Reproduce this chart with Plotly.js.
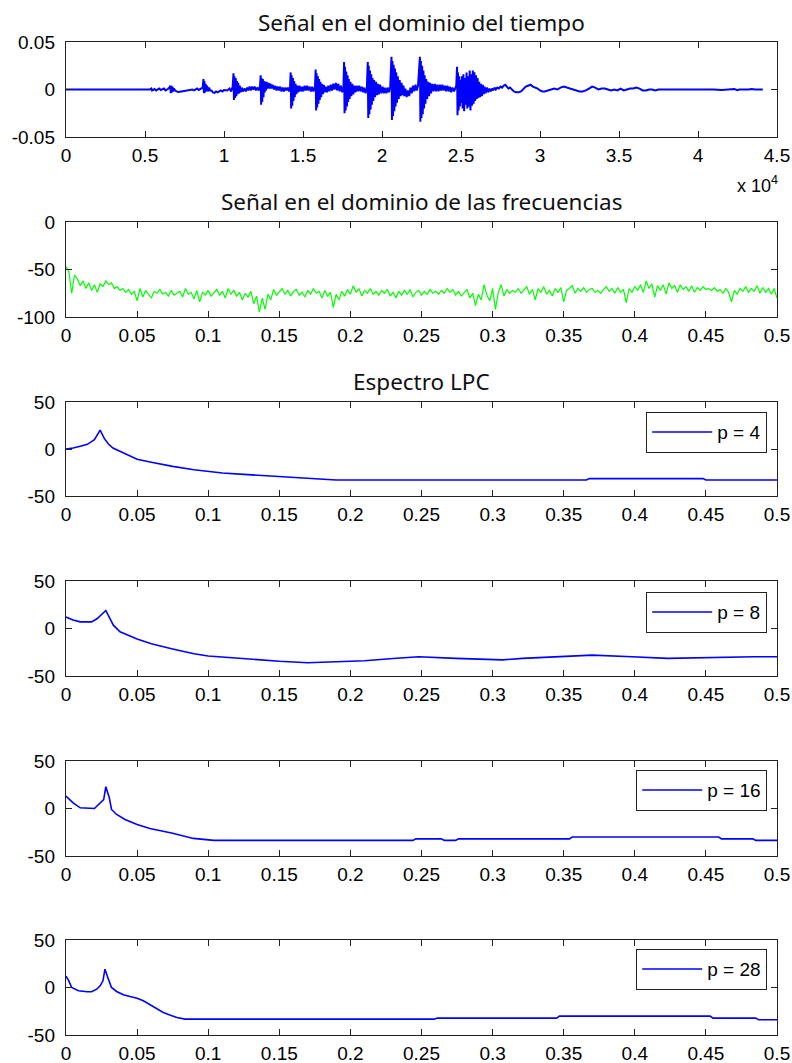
<!DOCTYPE html>
<html>
<head>
<meta charset="utf-8">
<script src="https://cdn.plot.ly/plotly-3.0.1.min.js"></script>
<style>html,body{margin:0;padding:0;background:#fff;}#chart{width:792px;height:1063px;}</style>
</head>
<body>
<div id="chart"></div>
<script>
// ---------------- DATA ----------------
const titles = ["Señal en el dominio del tiempo", "Señal en el dominio de las frecuencias", "Espectro LPC"];
const legendNames = ["p = 4", "p = 8", "p = 16", "p = 28"];

// time-domain signal (sample index, amplitude)
const timeX = [0,5300,5400,5450,5600,5700,5900,6000,6200,6300,6450,
6550,6600,6630,6660,6700,6740,6780,6830,6900,
7000,7100,7300,7500,7600,7700,7800,8000,8100,8300,8400,8550,
8650,8700,8730,8760,8800,8840,8880,8930,8980,9050,9120,
9200,9300,9400,9500,9600,9700,9800,9900,10000,10200,10350,10450,
10550,10600,10630,10660,10700,10740,10780,10820,10860,10900,10950,11000,11060,11120,11200,11300,11380,11460,11540,11620,11700,11780,11860,11940,12020,12100,12200,
12280,12320,12350,12380,12420,12460,12500,12540,12580,12620,12660,12700,12760,12820,12880,12940,13000,13080,13160,13240,13320,13400,13480,13560,13640,13720,13800,13880,13960,14040,14120,
14180,14220,14250,14280,14320,14360,14400,14440,14480,14530,14580,14640,14700,14780,14860,14940,15020,15100,15180,15260,15340,15420,15500,15580,15660,
15760,15800,15830,15860,15900,15940,15980,16020,16060,16100,16150,16200,16260,16320,16380,16440,16520,16600,16680,16760,16840,16920,17000,17080,17160,17240,17320,17400,17480,17560,
17600,17630,17660,17700,17740,17780,17820,17860,17900,17950,18000,18060,18120,18180,18250,18320,18400,18480,18560,18640,18720,18800,18880,18960,19040,
19100,19130,19160,19200,19240,19280,19320,19360,19400,19450,19500,19560,19620,19680,19740,19800,19880,19960,20040,20120,20200,20280,20360,20440,20520,
20600,20630,20660,20700,20740,20780,20820,20860,20900,20950,21000,21060,21120,21180,21240,21300,21360,21420,21480,21560,21640,21720,21800,21880,21960,22040,22120,22200,22280,
22400,22430,22460,22500,22540,22580,22620,22660,22700,22750,22800,22860,22920,22980,23040,23100,23180,23260,23340,23420,23500,23580,23660,23740,23820,23900,23980,24060,24140,24220,24300,24380,24460,24560,
24700,24750,24780,24810,24850,24890,24930,24970,25010,
25060,25100,25150,25200,25250,25300,25350,25400,25450,25500,25550,25600,25650,25700,25750,25800,25850,25900,25950,26000,26050,26100,26150,26200,26260,26320,26380,26440,26500,26560,26640,26720,26800,26880,26960,27040,27120,27200,27300,27400,27500,27600,27700,27800,27900,28000,28100,28200,28350,28500,28650,28800,28950,29100,29250,29400,29550,29700,29850,30000,30150,30300,30500,30700,30900,31100,31300,31500,31700,31900,32100,32300,32500,32700,32900,33100,33300,33500,33700,33900,34100,34300,34500,34700,34900,35100,35300,35500,35700,35900,36100,36300,36500,36700,36900,37100,37300,37500,37700,37900,38100,38300,38500,38700,39500,39800,40000,41000,41500,42000,42300,42500,42600,43200,43400,43600,44000,44100];
const timeY = [0,0,0.001,-0.001,0.0005,-0.001,0.001,-0.0005,0.001,-0.001,0.0005,
0.002,0.004,-0.004,0.004,-0.003,0.003,-0.002,0.001,-0.001,
-0.002,-0.0025,-0.002,-0.0015,-0.001,-0.0005,-0.001,0,-0.001,0.001,-0.0005,0.001,
0.002,0.011,-0.004,0.009,-0.003,0.006,-0.002,0.004,-0.002,0.002,-0.001,
-0.001,-0.003,-0.0035,-0.002,-0.003,-0.002,-0.001,-0.002,-0.0005,-0.001,0.001,-0.002,
0.003,0.017,-0.011,0.014,-0.009,0.012,-0.007,0.009,-0.005,0.007,-0.004,0.004,-0.003,0.002,-0.002,0.001,-0.002,0.002,-0.001,0.003,-0.001,0.003,0,0.003,-0.001,0.002,-0.001,
0.004,0.015,-0.016,0.012,-0.013,0.011,-0.008,0.009,-0.003,0.008,-0.001,0.008,0.001,0.007,0.001,0.006,0.001,0.005,0,0.004,-0.001,0.003,-0.001,0.003,-0.002,0.002,-0.002,0.002,-0.001,0.002,-0.002,
0.003,0.018,-0.02,0.015,-0.017,0.012,-0.012,0.009,-0.008,0.006,-0.005,0.004,-0.003,0.004,-0.002,0.003,-0.002,0.004,-0.001,0.004,-0.001,0.003,-0.002,0.003,-0.002,
0.003,0.021,-0.022,0.017,-0.019,0.014,-0.015,0.011,-0.011,0.008,-0.008,0.006,-0.005,0.005,-0.003,0.003,-0.003,0.004,-0.002,0.005,-0.001,0.006,0,0.007,-0.001,0.006,-0.002,0.004,-0.003,0.003,
0.029,-0.025,0.024,-0.022,0.019,-0.018,0.015,-0.013,0.011,-0.01,0.008,-0.007,0.006,-0.005,0.004,-0.003,0.004,-0.002,0.004,-0.002,0.003,-0.003,0.002,-0.004,0.001,
0.029,-0.03,0.025,-0.026,0.02,-0.021,0.016,-0.016,0.012,-0.012,0.01,-0.008,0.008,-0.006,0.006,-0.005,0.005,-0.004,0.003,-0.004,0.002,-0.004,0.002,-0.003,0.003,
0.0345,-0.032,0.03,-0.028,0.026,-0.023,0.022,-0.018,0.018,-0.014,0.014,-0.01,0.01,-0.007,0.007,-0.006,0.004,-0.007,0.001,-0.008,-0.001,-0.007,0.002,-0.004,0.004,-0.002,0.005,-0.001,0.004,
0.0345,-0.034,0.03,-0.03,0.025,-0.026,0.02,-0.02,0.015,-0.015,0.011,-0.01,0.008,-0.007,0.007,-0.004,0.006,-0.002,0.006,-0.002,0.005,-0.002,0.005,-0.001,0.005,-0.001,0.004,-0.002,0.004,-0.002,0.003,-0.003,0.002,-0.002,
0.004,0.024,-0.027,0.018,-0.022,0.014,-0.018,0.01,-0.014,
0.014,-0.02,0.016,-0.023,0.012,-0.016,0.018,-0.02,0.014,-0.018,0.02,-0.022,0.016,-0.017,0.02,-0.015,0.018,-0.012,0.015,-0.01,0.012,-0.009,0.008,-0.008,0.006,-0.007,0.005,-0.005,0.003,-0.004,0.002,-0.003,0.001,-0.002,0.001,-0.001,0.002,0,0.002,0.001,0.003,0.002,0.004,0.005,0.003,0.001,0.002,0,-0.002,-0.003,-0.003,-0.002,0.001,0.003,0.004,0.005,0.003,0.002,0.001,-0.001,-0.002,-0.002,-0.001,0,0.001,0,0.002,0.003,0.002,0.001,0,-0.001,-0.002,-0.002,-0.001,0.001,0.003,0.002,0,0.001,0.001,0,-0.001,0,-0.001,0.001,-0.001,0,0.001,0.001,0.002,0.001,-0.001,-0.001,0,0,-0.001,0,0,0,0,0,0.0005,0,0,0.0005,0,0,-0.0005,0,0.0005,-0.0007,0,0,0.0005,0,-0.0005,0];
const timeTickVals = [0,5000,10000,15000,20000,25000,30000,35000,40000,45000];
const timeTickText = ["0","0.5","1","1.5","2","2.5","3","3.5","4","4.5"];

// magnitude spectrum (dB), one value every 0.002 of normalised frequency
const specStep = 0.002;
const specDb = [-47,-52,-75,-56,-60,-67,-62,-70,-64,-72,
-66,-74,-65,-68,-62,-66,-64,-70,-68,-72,
-70,-74,-71,-76,-73,-83,-70,-79,-72,-76,
-80,-73,-75,-71,-76,-74,-78,-72,-77,-75,
-73,-79,-70,-76,-74,-81,-72,-84,-74,-77,
-72,-78,-74,-71,-77,-73,-80,-70,-76,-72,
-78,-74,-82,-75,-79,-73,-86,-78,-95,-80,
-92,-76,-82,-71,-77,-74,-70,-76,-72,-78,
-73,-71,-77,-74,-79,-72,-76,-70,-75,-73,
-80,-72,-78,-74,-90,-76,-82,-73,-78,-71,
-76,-67,-74,-70,-78,-72,-75,-70,-76,-73,
-77,-72,-75,-71,-78,-74,-80,-73,-77,-72,
-76,-71,-79,-74,-72,-77,-73,-76,-71,-75,
-73,-76,-72,-75,-70,-74,-71,-77,-73,-78,
-74,-71,-80,-75,-88,-76,-82,-66,-77,-83,
-70,-92,-74,-66,-78,-71,-75,-72,-74,-70,
-75,-72,-68,-76,-71,-82,-70,-74,-68,-76,
-72,-78,-70,-74,-69,-84,-72,-70,-67,-75,
-70,-73,-69,-74,-71,-70,-74,-72,-75,-71,
-68,-73,-70,-75,-69,-74,-71,-85,-70,-74,
-68,-72,-66,-74,-62,-70,-65,-79,-67,-72,
-66,-76,-64,-70,-67,-74,-66,-71,-68,-73,
-67,-74,-69,-72,-68,-71,-70,-72,-69,-73,
-71,-75,-70,-74,-84,-72,-76,-70,-73,-68,
-74,-70,-73,-67,-75,-69,-74,-70,-76,-70,
-80];

// LPC spectra (normalised frequency, dB)
const lpc4F = [0,0.005,0.01,0.015,0.02,0.024,0.027,0.03,0.033,0.04,0.05,0.06,0.075,0.09,0.1,0.11,0.125,0.14,0.15,0.16,0.175,0.19,0.25,0.3,0.366,0.368,0.448,0.45,0.5];
const lpc4Db = [0,1,3,5,10,20,11,5,1,-4,-11,-14,-18.5,-22,-24,-25.5,-27,-28.5,-29.5,-30.5,-31.5,-33,-33,-33,-33,-31.5,-31.5,-33,-33];
const lpc8F = [0,0.005,0.01,0.018,0.022,0.028,0.0333,0.038,0.05,0.06,0.075,0.09,0.1,0.125,0.15,0.17,0.19,0.21,0.23,0.248,0.274,0.307,0.321,0.35,0.37,0.398,0.423,0.484,0.5];
const lpc8Db = [12,9,7,7,10.5,19,3.5,-3.5,-11,-16,-21.5,-26.5,-29,-32,-34.5,-36,-35,-34,-31.5,-29.7,-31.4,-33,-31.4,-29.7,-28,-29.7,-31.4,-29.7,-29.7];
const lpc16F = [0,0.005,0.01,0.015,0.02,0.0216,0.0265,0.028,0.0305,0.032,0.0356,0.0415,0.05,0.059,0.075,0.0895,0.104,0.244,0.246,0.264,0.266,0.274,0.276,0.354,0.356,0.459,0.461,0.483,0.485,0.5];
const lpc16Db = [13,6,0.7,0,0,2.4,9.4,23,11,-1,-6.3,-11.5,-16.8,-21,-26,-31.5,-33.6,-33.6,-32,-32,-33.6,-33.6,-32,-32,-30,-30,-32,-32,-33.6,-33.6];
const lpc28F = [0,0.002,0.004,0.0087,0.015,0.018,0.0216,0.024,0.026,0.0274,0.0298,0.032,0.0356,0.0403,0.045,0.05,0.0544,0.059,0.064,0.0684,0.073,0.078,0.0837,0.259,0.261,0.345,0.347,0.453,0.455,0.485,0.487,0.5];
const lpc28Db = [12,7,0,-3.5,-4.5,-4.5,-1.8,1.8,7,19.3,8.8,0,-4.2,-7.7,-9.5,-11.2,-14,-18.2,-22.8,-26.3,-29,-31.6,-33.3,-33.3,-32.2,-32.2,-30.1,-30.1,-32.2,-32.2,-34,-34];

const freqTickVals = [0,0.05,0.1,0.15,0.2,0.25,0.3,0.35,0.4,0.45,0.5];
const freqTickText = ["0","0.05","0.1","0.15","0.2","0.25","0.3","0.35","0.4","0.45","0.5"];

// ---------------- FIGURE ----------------
const specF = specDb.map((_, i) => +(i * specStep).toFixed(4));
const W = 792, H = 1063;
const xDom = [66 / W, 777 / W];
const panels = [[42, 137], [222, 317], [402, 496], [581, 676], [761, 856], [940, 1035]];
const yDom = panels.map(p => [1 - p[1] / H, 1 - p[0] / H]);
const tickFont = {family: "Liberation Sans, Arial, sans-serif", size: 19, color: "#000"};
const titleFont = {family: "Noto Sans, Open Sans, sans-serif", size: 22.5, color: "#111"};

const blue = "#0000ff";
const traces = [
  {x: timeX, y: timeY, type: "scatter", mode: "lines", line: {color: blue, width: 2}, xaxis: "x", yaxis: "y", showlegend: false, hoverinfo: "skip"},
  {x: specF, y: specDb, type: "scatter", mode: "lines", line: {color: "#00ff00", width: 1.2}, xaxis: "x2", yaxis: "y2", showlegend: false, hoverinfo: "skip"},
  {x: lpc4F, y: lpc4Db, name: legendNames[0], type: "scatter", mode: "lines", line: {color: blue, width: 1.6}, xaxis: "x3", yaxis: "y3", legend: "legend"},
  {x: lpc8F, y: lpc8Db, name: legendNames[1], type: "scatter", mode: "lines", line: {color: blue, width: 1.6}, xaxis: "x4", yaxis: "y4", legend: "legend2"},
  {x: lpc16F, y: lpc16Db, name: legendNames[2], type: "scatter", mode: "lines", line: {color: blue, width: 1.6}, xaxis: "x5", yaxis: "y5", legend: "legend3"},
  {x: lpc28F, y: lpc28Db, name: legendNames[3], type: "scatter", mode: "lines", line: {color: blue, width: 1.6}, xaxis: "x6", yaxis: "y6", legend: "legend4"}
];

function xAxis(i, range, vals, text) {
  return {domain: xDom, range: range, anchor: "y" + (i === 1 ? "" : i), tickmode: "array", tickvals: vals, ticktext: text,
    ticks: "inside", ticklen: 6, tickcolor: "#222", tickwidth: 1, showline: true, linecolor: "#222", linewidth: 1.2, mirror: "ticks",
    showgrid: false, zeroline: false, tickfont: tickFont, ticklabelstandoff: 1, fixedrange: true};
}
function yAxis(i, range, vals, text) {
  return {domain: yDom[i - 1], range: range, anchor: "x" + (i === 1 ? "" : i), tickmode: "array", tickvals: vals, ticktext: text,
    ticks: "inside", ticklen: 6, tickcolor: "#222", tickwidth: 1, showline: true, linecolor: "#222", linewidth: 1.2, mirror: "ticks",
    showgrid: false, zeroline: false, tickfont: tickFont, ticklabelstandoff: 6, fixedrange: true};
}
function legendAt(topPx, entryW) {
  return {x: 767 / W, y: 1 - topPx / H, xanchor: "right", yanchor: "top", bgcolor: "#fff", bordercolor: "#222", borderwidth: 1.2,
    font: {family: "Liberation Sans, Arial, sans-serif", size: 19, color: "#000"}, itemwidth: 60, tracegroupgap: 0,
    entrywidthmode: "pixels", entrywidth: entryW};
}

const layout = {
  width: W, height: H, margin: {l: 0, r: 0, t: 0, b: 0}, paper_bgcolor: "#fff", plot_bgcolor: "#fff", showlegend: true,
  xaxis: xAxis(1, [0, 45000], timeTickVals, timeTickText),
  yaxis: yAxis(1, [-0.05, 0.05], [-0.05, 0, 0.05], ["-0.05", "0", "0.05"]),
  xaxis2: xAxis(2, [0, 0.5], freqTickVals, freqTickText),
  yaxis2: yAxis(2, [-100, 0], [-100, -50, 0], ["-100", "-50", "0"]),
  xaxis3: xAxis(3, [0, 0.5], freqTickVals, freqTickText),
  yaxis3: yAxis(3, [-50, 50], [-50, 0, 50], ["-50", "0", "50"]),
  xaxis4: xAxis(4, [0, 0.5], freqTickVals, freqTickText),
  yaxis4: yAxis(4, [-50, 50], [-50, 0, 50], ["-50", "0", "50"]),
  xaxis5: xAxis(5, [0, 0.5], freqTickVals, freqTickText),
  yaxis5: yAxis(5, [-50, 50], [-50, 0, 50], ["-50", "0", "50"]),
  xaxis6: xAxis(6, [0, 0.5], freqTickVals, freqTickText),
  yaxis6: yAxis(6, [-50, 50], [-50, 0, 50], ["-50", "0", "50"]),
  legend: legendAt(412, 90), legend2: legendAt(592, 90), legend3: legendAt(770, 100), legend4: legendAt(949, 100),
  annotations: [
    {text: titles[0], xref: "paper", yref: "paper", x: 421.5 / W, y: 1 - 22 / H, xanchor: "center", yanchor: "middle", showarrow: false, font: titleFont},
    {text: titles[1], xref: "paper", yref: "paper", x: 421.5 / W, y: 1 - 201 / H, xanchor: "center", yanchor: "middle", showarrow: false, font: titleFont},
    {text: titles[2], xref: "paper", yref: "paper", x: 421.5 / W, y: 1 - 381 / H, xanchor: "center", yanchor: "middle", showarrow: false, font: titleFont},
    {text: "x 10<sup>4</sup>", xref: "paper", yref: "paper", x: 780 / W, y: 1 - 185 / H, xanchor: "right", yanchor: "middle", showarrow: false, font: {family: "Liberation Sans, Arial, sans-serif", size: 18, color: "#000"}}
  ]
};

Plotly.newPlot("chart", traces, layout, {staticPlot: true, displayModeBar: false});
</script>
</body>
</html>
